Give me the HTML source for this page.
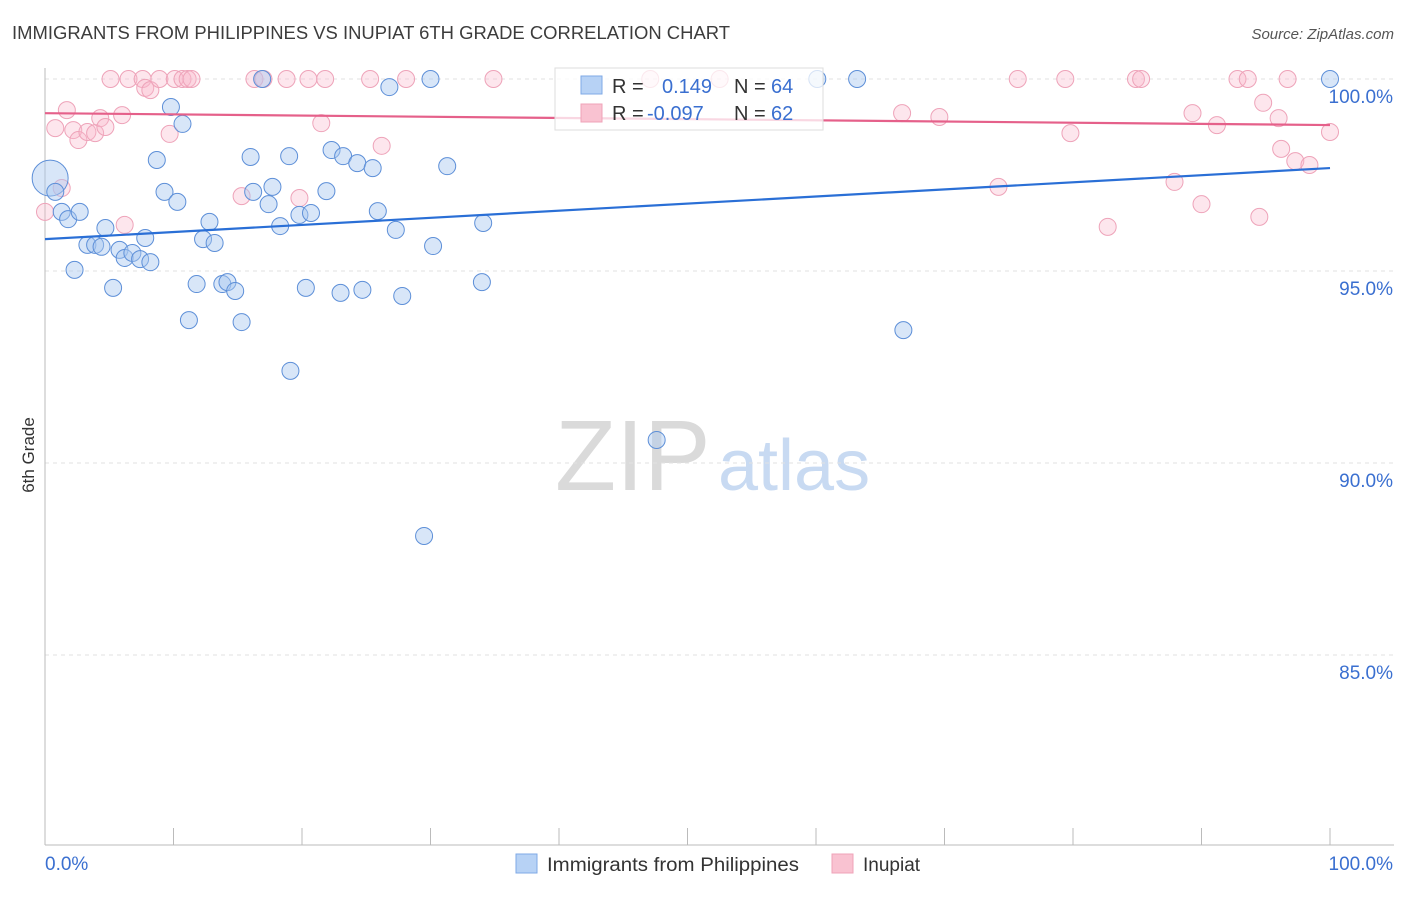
<!DOCTYPE html>
<html><head><meta charset="utf-8"><style>
body{margin:0;background:#fff;font-family:"Liberation Sans",sans-serif;}
svg text{font-family:"Liberation Sans",sans-serif;}
</style></head><body>
<svg id="chart" width="1406" height="892" xmlns="http://www.w3.org/2000/svg">
<text x="12" y="39" font-size="18" fill="#3c3c3c" textLength="718" lengthAdjust="spacingAndGlyphs">IMMIGRANTS FROM PHILIPPINES VS INUPIAT 6TH GRADE CORRELATION CHART</text>
<text x="1394" y="39" font-size="15" fill="#555" text-anchor="end" font-style="italic">Source: ZipAtlas.com</text>
<text x="555" y="490" font-size="100" fill="#dadada" font-family="Liberation Serif">ZIP</text>
<text x="718" y="490" font-size="72" fill="#c8daf2">atlas</text>
<text transform="translate(34,455) rotate(-90)" font-size="17" fill="#333" text-anchor="middle">6th Grade</text>
<g id="grid"></g><g id="axes"></g><g id="pts"></g><g id="lines"></g>
<g>
<rect x="555" y="68" width="268" height="62" fill="rgba(255,255,255,0.75)" stroke="#ddd"/>
<rect x="581" y="76" width="21" height="18" fill="#b7d2f5" stroke="#7fa9e6"/>
<rect x="581" y="104" width="21" height="18" fill="#f9c2d1" stroke="#efa3b8"/>
<text x="612" y="93" font-size="20" fill="#333">R =</text><text x="662" y="93" font-size="20" fill="#3a6fd0">0.149</text>
<text x="734" y="93" font-size="20" fill="#333">N =</text><text x="771" y="93" font-size="20" fill="#3a6fd0">64</text>
<text x="612" y="120" font-size="20" fill="#333">R =</text><text x="647" y="120" font-size="20" fill="#3a6fd0">-0.097</text>
<text x="734" y="120" font-size="20" fill="#333">N =</text><text x="771" y="120" font-size="20" fill="#3a6fd0">62</text>
</g>
<g>
<rect x="516" y="854" width="21" height="19" fill="#b7d2f5" stroke="#7fa9e6"/>
<text x="547" y="871" font-size="19" fill="#333" textLength="252" lengthAdjust="spacingAndGlyphs">Immigrants from Philippines</text>
<rect x="832" y="854" width="21" height="19" fill="#f9c2d1" stroke="#efa3b8"/>
<text x="863" y="871" font-size="19" fill="#333">Inupiat</text>
</g>
</svg>
<script>
const yTicks=[100,95,90,85];
const xTickLabels=["0.0%","100.0%"];
const blueX=[0.4,0.8,1.3,1.8,2.7,2.3,3.3,3.9,4.4,4.7,5.3,5.8,6.2,6.8,7.4,7.8,8.2,8.7,9.3,9.8,10.3,10.7,11.2,11.8,12.3,12.8,13.2,13.8,14.2,14.8,15.3,16.0,16.2,16.9,17.4,17.7,18.3,19.0,19.1,19.8,20.3,20.7,21.9,22.3,23.0,23.2,24.3,24.7,25.5,25.9,26.8,27.3,27.8,29.5,30.0,30.2,31.3,34.0,34.1,47.6,60.1,63.2,66.8,100];
const blueY=[97.42,97.06,96.54,96.35,96.54,95.03,95.68,95.68,95.63,96.12,94.56,95.55,95.34,95.47,95.31,95.86,95.23,97.89,97.06,99.27,96.80,98.83,93.72,94.66,95.83,96.28,95.73,94.66,94.71,94.48,93.67,97.97,97.06,100,96.74,97.19,96.17,97.99,92.40,96.46,94.56,96.51,97.08,98.15,94.43,97.99,97.81,94.51,97.68,96.56,99.79,96.07,94.35,88.10,100,95.65,97.73,94.71,96.25,90.60,100,100,93.46,100];
const pinkX=[0,0.8,1.3,1.7,2.2,2.6,3.3,3.9,4.3,4.7,5.1,6.0,6.2,6.5,7.6,7.8,8.2,8.9,9.7,10.1,10.7,11.1,11.4,15.3,16.3,17.0,18.8,19.8,20.5,21.5,21.8,25.3,26.2,28.1,34.9,47.1,52.5,66.7,69.6,74.2,75.7,79.4,79.8,82.7,84.9,85.3,87.9,89.3,90.0,91.2,92.8,93.6,94.5,94.8,96.0,96.2,96.7,97.3,98.4,100];
const pinkY=[96.54,98.72,97.16,99.19,98.67,98.41,98.62,98.59,98.98,98.75,100,99.06,96.20,100,100,99.77,99.71,100,98.57,100,100,100,100,96.95,100,100,100,96.90,100,98.85,100,100,98.26,100,100,100,100,99.11,99.01,97.19,100,100,98.59,96.15,100,100,97.32,99.11,96.74,98.80,100,100,96.41,99.38,98.98,98.18,100,97.86,97.76,98.62];
const blueLine=[95.83,97.68];
const pinkLine=[99.11,98.80];
const NS="http://www.w3.org/2000/svg";
const X=v=>45+v*12.85, Y=v=>79+(100-v)*38.4;
function mk(t,a,p){const e=document.createElementNS(NS,t);for(const k in a)e.setAttribute(k,a[k]);document.getElementById(p).appendChild(e);return e;}
yTicks.forEach(t=>{
 const l=mk('line',{x1:45,x2:1394,y1:Y(t),y2:Y(t),stroke:'#e2e2e2','stroke-dasharray':'4,4'},'grid');
 
 
 const tx=mk('text',{x:1393,y:Y(t)+24,'font-size':19,fill:'#3a6fd0','text-anchor':'end'},'grid');
 tx.textContent=t.toFixed(1)+'%';
 
 
});
const ax=mk('line',{x1:45,x2:45,y1:68,y2:845,stroke:'#bbb'},'axes');


const bx=mk('line',{x1:45,x2:1394,y1:845,y2:845,stroke:'#bbb'},'axes');


for(let i=0;i<=10;i++){const tk=mk('line',{x1:X(i*10),x2:X(i*10),y1:828,y2:845,stroke:'#bbb'},'axes');
 
 }
xTickLabels.forEach((s,i)=>{const t=mk('text',{x:i?1393:45,y:870,'font-size':19,fill:'#3a6fd0','text-anchor':i?'end':'start'},'axes');t.textContent=s;
 
 });
pinkX.forEach((x,i)=>{const c=mk('circle',{cx:X(x),cy:Y(pinkY[i]),r:8.5,fill:'rgba(248,182,202,0.35)',stroke:'#eea3b9','stroke-width':1},'pts');
 
 });
blueX.forEach((x,i)=>{const c=mk('circle',{cx:X(x),cy:Y(blueY[i]),r:i==0?18:8.5,fill:'rgba(168,200,240,0.45)',stroke:'#5d8fd8','stroke-width':1},'pts');
 
 });
const bl=mk('line',{x1:X(0),x2:X(100),y1:Y(blueLine[0]),y2:Y(blueLine[1]),stroke:'#2a6fd6','stroke-width':2.2},'lines');


const pl=mk('line',{x1:X(0),x2:X(100),y1:Y(pinkLine[0]),y2:Y(pinkLine[1]),stroke:'#e5608a','stroke-width':2.2},'lines');


</script>
</body></html>
